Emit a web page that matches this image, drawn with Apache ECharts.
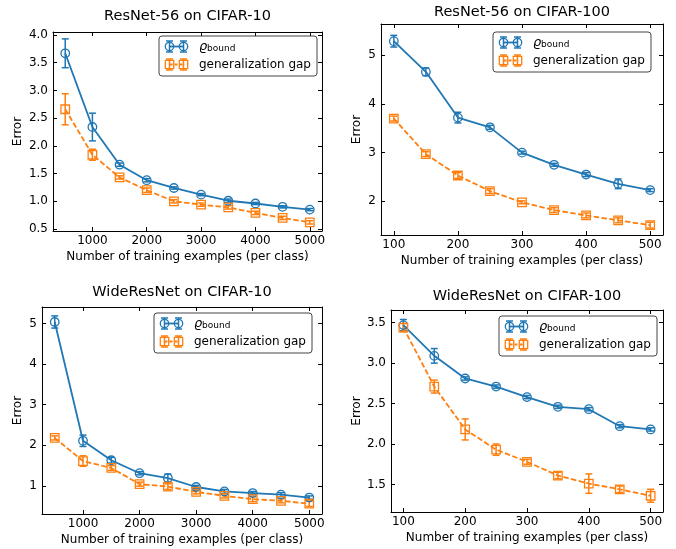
<!DOCTYPE html>
<html><head><meta charset="utf-8">
<script src="https://cdn.jsdelivr.net/npm/echarts@6/dist/echarts.min.js"></script>
<style>html,body{margin:0;padding:0;background:#fff}#c{width:676px;height:549px}</style>
</head><body><div id="c"></div>
<script>
// Training-set sizes (examples per class)
const xCifar10 = [500, 1000, 1500, 2000, 2500, 3000, 3500, 4000, 4500, 5000];
const xCifar100 = [100, 150, 200, 250, 300, 350, 400, 450, 500];

// ResNet-56 on CIFAR-10
const r10Bound    = [3.67, 2.34, 1.66, 1.38, 1.24, 1.12, 1.01, 0.96, 0.90, 0.85];
const r10BoundErr = [0.26, 0.25, 0.03, 0.03, 0.02, 0.02, 0.03, 0.02, 0.02, 0.02];
const r10Gap      = [2.66, 1.84, 1.43, 1.20, 1.00, 0.94, 0.89, 0.79, 0.70, 0.62];
const r10GapErr   = [0.28, 0.10, 0.03, 0.04, 0.03, 0.03, 0.03, 0.03, 0.03, 0.03];

// ResNet-56 on CIFAR-100
const r100Bound    = [5.29, 4.66, 3.72, 3.52, 3.00, 2.75, 2.55, 2.36, 2.23];
const r100BoundErr = [0.12, 0.08, 0.11, 0.04, 0.03, 0.03, 0.04, 0.10, 0.03];
const r100Gap      = [3.70, 2.97, 2.53, 2.21, 1.98, 1.82, 1.71, 1.61, 1.51];
const r100GapErr   = [0.05, 0.05, 0.06, 0.05, 0.03, 0.05, 0.05, 0.05, 0.06];

// WideResNet on CIFAR-10
const w10Bound    = [5.04, 2.11, 1.63, 1.31, 1.19, 0.97, 0.86, 0.82, 0.78, 0.71];
const w10BoundErr = [0.15, 0.14, 0.07, 0.04, 0.10, 0.04, 0.05, 0.04, 0.05, 0.04];
const w10Gap      = [2.18, 1.61, 1.44, 1.04, 0.98, 0.85, 0.75, 0.67, 0.63, 0.56];
const w10GapErr   = [0.05, 0.13, 0.06, 0.05, 0.07, 0.05, 0.05, 0.06, 0.05, 0.07];

// WideResNet on CIFAR-100
const w100Bound    = [3.47, 3.09, 2.81, 2.71, 2.58, 2.46, 2.43, 2.22, 2.18];
const w100BoundErr = [0.07, 0.09, 0.02, 0.02, 0.02, 0.02, 0.02, 0.02, 0.02];
const w100Gap      = [3.44, 2.71, 2.18, 1.93, 1.78, 1.61, 1.51, 1.44, 1.36];
const w100GapErr   = [0.05, 0.08, 0.13, 0.07, 0.03, 0.04, 0.12, 0.04, 0.08];

// Tick labels
const ticksX10 = [1000, 2000, 3000, 4000, 5000];
const ticksX100 = [100, 200, 300, 400, 500];
const ticksYr10 = [0.5, 1.0, 1.5, 2.0, 2.5, 3.0, 3.5, 4.0];
const ticksYr100 = [2, 3, 4, 5];
const ticksYw10 = [1, 2, 3, 4, 5];
const ticksYw100 = [1.5, 2.0, 2.5, 3.0, 3.5];

const titles = ['ResNet-56 on CIFAR-10', 'ResNet-56 on CIFAR-100', 'WideResNet on CIFAR-10', 'WideResNet on CIFAR-100'];
const boundLabel = 'ϱ';
const boundSub = 'bound';
const gapLabel = 'generalization gap';
const xName = 'Number of training examples (per class)';
const yName = 'Error';

const BLUE = '#1f77b4', ORANGE = '#ff7f0e';
const FONT = 'DejaVu Sans';
const FS = 12;

const panels = [
  { grid: {left: 53, top: 32, width: 269, height: 199}, x: xCifar10, xr: [275, 5225], xt: ticksX10, xd: 0,
    yr: [0.464, 4.054], yt: ticksYr10, yd: 1, b: r10Bound, be: r10BoundErr, g: r10Gap, ge: r10GapErr,
    titleY: 9, yGap: 29, legend: [159, 36] },
  { grid: {left: 381, top: 24, width: 282, height: 211}, x: xCifar100, xr: [80, 520], xt: ticksX100, xd: 0,
    yr: [1.308, 5.643], yt: ticksYr100, yd: 0, b: r100Bound, be: r100BoundErr, g: r100Gap, ge: r100GapErr,
    titleY: 5, yGap: 18, legend: [493, 32] },
  { grid: {left: 42, top: 307, width: 280, height: 207}, x: xCifar10, xr: [275, 5225], xt: ticksX10, xd: 0,
    yr: [0.304, 5.41], yt: ticksYw10, yd: 0, b: w10Bound, be: w10BoundErr, g: w10Gap, ge: w10GapErr,
    titleY: 285, yGap: 18, legend: [154, 313] },
  { grid: {left: 391, top: 310, width: 272, height: 202}, x: xCifar100, xr: [80, 520], xt: ticksX100, xd: 0,
    yr: [1.159, 3.657], yt: ticksYw100, yd: 1, b: w100Bound, be: w100BoundErr, g: w100Gap, ge: w100GapErr,
    titleY: 289, yGap: 28, legend: [499, 316] }
];

const axisLine = {show: true, onZero: false, lineStyle: {color: '#000', width: 1}};
const labelStyle = {color: '#000', fontSize: FS, fontFamily: FONT};

function errRenderer(color) {
  return function (params, api) {
    const x = api.value(0), y = api.value(1), e = api.value(2);
    const t = api.coord([x, y + e]), b = api.coord([x, y - e]);
    const hw = 3.5, st = {stroke: color, lineWidth: 1.5};
    return {type: 'group', children: [
      {type: 'line', shape: {x1: t[0], y1: t[1], x2: b[0], y2: b[1]}, style: st},
      {type: 'line', shape: {x1: t[0] - hw, y1: t[1], x2: t[0] + hw, y2: t[1]}, style: st},
      {type: 'line', shape: {x1: b[0] - hw, y1: b[1], x2: b[0] + hw, y2: b[1]}, style: st}
    ]};
  };
}

function legendGraphic(lx, ly) {
  const w = 158, h = 40;
  const rows = [10.5, 28.5];
  const kids = [{type: 'rect', shape: {x: lx, y: ly, width: w, height: h, r: 3},
    style: {fill: 'rgba(255,255,255,0.85)', stroke: '#444', lineWidth: 1}}];
  [[BLUE, 'circle', false], [ORANGE, 'rect', true]].forEach(([col, shp, dashed], i) => {
    const cy = ly + rows[i];
    const x1 = lx + 10.5, x2 = lx + 24.5;
    kids.push({type: 'line', shape: {x1: x1, y1: cy, x2: x2, y2: cy},
      style: {stroke: col, lineWidth: 1.8, lineDash: dashed ? [3, 2] : null}});
    [x1, x2].forEach(mx => {
      kids.push({type: 'line', shape: {x1: mx, y1: cy - 5.5, x2: mx, y2: cy + 5.5}, style: {stroke: col, lineWidth: 1.5}});
      kids.push({type: 'line', shape: {x1: mx - 3.5, y1: cy - 5.5, x2: mx + 3.5, y2: cy - 5.5}, style: {stroke: col, lineWidth: 1.5}});
      kids.push({type: 'line', shape: {x1: mx - 3.5, y1: cy + 5.5, x2: mx + 3.5, y2: cy + 5.5}, style: {stroke: col, lineWidth: 1.5}});
      if (shp === 'circle') {
        kids.push({type: 'circle', shape: {cx: mx, cy: cy, r: 4.2}, style: {fill: 'none', stroke: col, lineWidth: 1.3}});
      } else {
        kids.push({type: 'rect', shape: {x: mx - 4.2, y: cy - 4.2, width: 8.4, height: 8.4}, style: {fill: 'none', stroke: col, lineWidth: 1.3}});
      }
    });
  });
  kids.push({type: 'text', style: {x: lx + 40, y: ly + rows[0], text: boundLabel, fill: '#000',
    font: 'italic 13px "' + FONT + '"', verticalAlign: 'middle'}});
  kids.push({type: 'text', style: {x: lx + 48, y: ly + rows[0] + 2.5, text: boundSub, fill: '#000',
    font: '9px "' + FONT + '"', verticalAlign: 'middle'}});
  kids.push({type: 'text', style: {x: lx + 40, y: ly + rows[1], text: gapLabel, fill: '#000',
    font: FS + 'px "' + FONT + '"', verticalAlign: 'middle'}});
  return {type: 'group', z: 100, children: kids};
}

const option = {
  backgroundColor: '#fff',
  animation: false,
  textStyle: {fontFamily: FONT},
  title: [], grid: [], xAxis: [], yAxis: [], series: [], graphic: []
};

panels.forEach((p, i) => {
  const g = p.grid;
  option.grid.push(Object.assign({containLabel: false}, g));
  option.title.push({text: titles[i], left: g.left + g.width / 2, top: p.titleY, textAlign: 'center',
    padding: 0,
    textStyle: {fontSize: 14.5, fontWeight: 'normal', color: '#000', fontFamily: FONT}});
  const fx = v => v.toFixed(p.xd), fy = v => v.toFixed(p.yd);
  // bottom / top x axes
  option.xAxis.push({type: 'value', gridIndex: i, position: 'bottom', min: p.xr[0], max: p.xr[1],
    axisLine, splitLine: {show: false},
    axisTick: {show: true, inside: true, length: 4, customValues: p.xt, lineStyle: {color: '#000', width: 1}},
    axisLabel: Object.assign({show: true, customValues: p.xt, formatter: fx, margin: 4}, labelStyle),
    name: xName, nameLocation: 'middle', nameGap: 20,
    nameTextStyle: {color: '#000', fontSize: FS, fontFamily: FONT}});
  option.xAxis.push({type: 'value', gridIndex: i, position: 'top', min: p.xr[0], max: p.xr[1],
    axisLine, splitLine: {show: false},
    axisTick: {show: true, inside: true, length: 4, customValues: p.xt, lineStyle: {color: '#000', width: 1}},
    axisLabel: {show: false}});
  // left / right y axes
  option.yAxis.push({type: 'value', gridIndex: i, position: 'left', min: p.yr[0], max: p.yr[1],
    axisLine, splitLine: {show: false},
    axisTick: {show: true, inside: true, length: 4, customValues: p.yt, lineStyle: {color: '#000', width: 1}},
    axisLabel: Object.assign({show: true, customValues: p.yt, formatter: fy, margin: 5}, labelStyle),
    name: yName, nameLocation: 'middle', nameGap: p.yGap,
    nameTextStyle: {color: '#000', fontSize: FS, fontFamily: FONT}});
  option.yAxis.push({type: 'value', gridIndex: i, position: 'right', min: p.yr[0], max: p.yr[1],
    axisLine, splitLine: {show: false},
    axisTick: {show: true, inside: true, length: 4, customValues: p.yt, lineStyle: {color: '#000', width: 1}},
    axisLabel: {show: false}});

  const xi = 2 * i, yi = 2 * i;
  const sets = [
    {v: p.b, e: p.be, col: BLUE, sym: 'circle', dash: 'solid'},
    {v: p.g, e: p.ge, col: ORANGE, sym: 'rect', dash: [5.5, 2.4]}
  ];
  sets.forEach(s => {
    option.series.push({type: 'custom', xAxisIndex: xi, yAxisIndex: yi, z: 2,
      renderItem: errRenderer(s.col), encode: {x: 0, y: 1},
      data: p.x.map((x, k) => [x, s.v[k], s.e[k]])});
    option.series.push({type: 'line', xAxisIndex: xi, yAxisIndex: yi, z: 3,
      data: p.x.map((x, k) => [x, s.v[k]]),
      symbol: s.sym, symbolSize: 8.5, showSymbol: true,
      lineStyle: {color: s.col, width: 1.8, type: s.dash},
      itemStyle: {color: 'rgba(0,0,0,0)', borderColor: s.col, borderWidth: 1.3}});
  });
  option.graphic.push(legendGraphic(p.legend[0], p.legend[1]));
});

const chart = echarts.init(document.getElementById('c'), null, {renderer: 'canvas'});
chart.setOption(option);
</script></body></html>
